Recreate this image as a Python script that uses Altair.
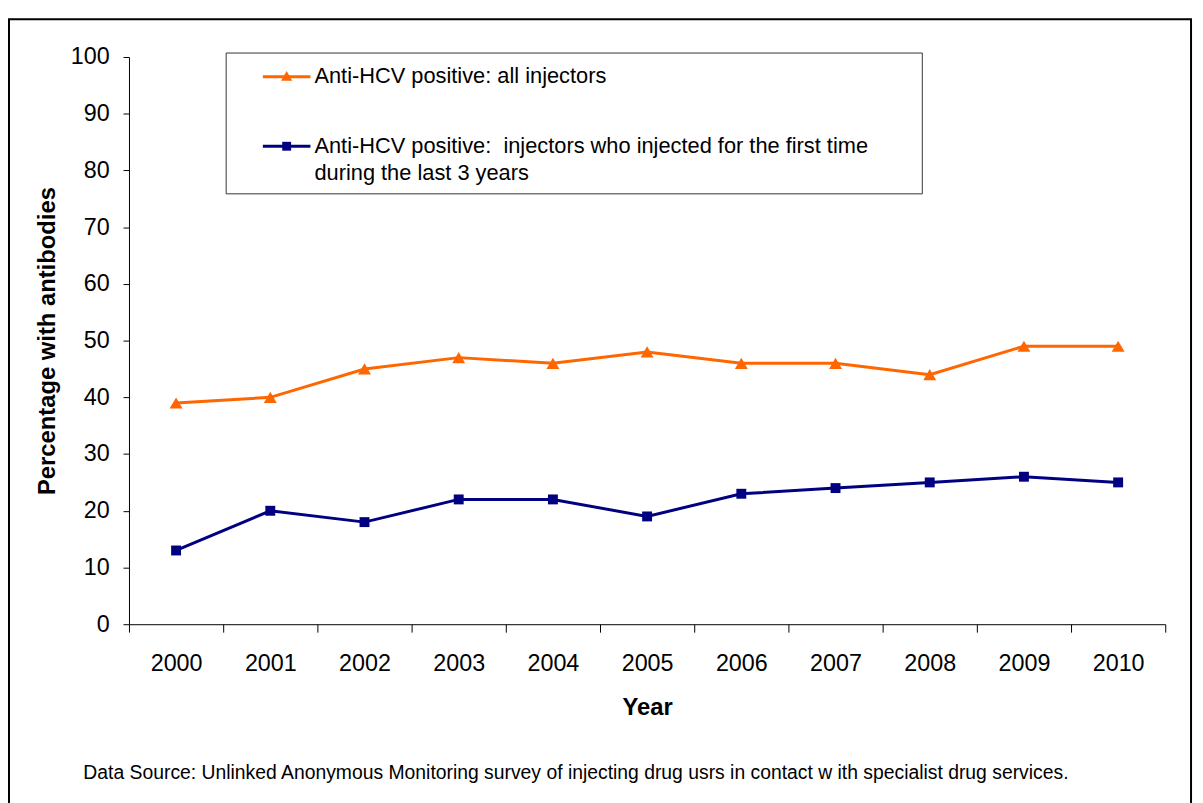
import altair as alt
import pandas as pd

years = ["2000", "2001", "2002", "2003", "2004", "2005", "2006", "2007", "2008", "2009", "2010"]
all_injectors = [39, 40, 45, 47, 46, 48, 46, 46, 44, 49, 49]
recent_injectors = [13, 20, 18, 22, 22, 19, 23, 24, 25, 26, 25]

series_names = ["Anti-HCV positive: all injectors",
                "Anti-HCV positive:  injectors who injected for the first time during the last 3 years"]
colors = ["#FF6600", "#000080"]
legend_line1 = "Anti-HCV positive: all injectors"
legend_line2 = "Anti-HCV positive:\u00a0 injectors who injected for the first time"
legend_line3 = "during the last 3 years"
source_text = "Data Source: Unlinked Anonymous Monitoring survey of injecting drug usrs in contact w ith specialist drug services."

FONT = "Liberation Sans"

df = pd.DataFrame({
    "year": years * 2,
    "value": all_injectors + recent_injectors,
    "series": [series_names[0]] * len(years) + [series_names[1]] * len(years),
})

x_enc = alt.X("year:O", bandPosition=0.5,
              scale=alt.Scale(type="band", paddingInner=0, paddingOuter=0, domain=years),
              axis=alt.Axis(title="Year", labelAngle=0, tickBand="extent", tickSize=8,
                            labelPadding=20, titlePadding=21, labelFontSize=23.5,
                            titleFontSize=24, titleFontWeight="bold"))
y_enc = alt.Y("value:Q", scale=alt.Scale(domain=[0, 100], nice=False),
              axis=alt.Axis(title="Percentage with antibodies", values=list(range(0, 101, 10)),
                            grid=False, tickSize=6, labelPadding=14, titlePadding=11,
                            labelFontSize=23.5, titleFontSize=24, titleFontWeight="bold"))
color_enc = alt.Color("series:N", scale=alt.Scale(domain=series_names, range=colors), legend=None)
shape_enc = alt.Shape("series:N", scale=alt.Scale(domain=series_names, range=["triangle-up", "square"]), legend=None)
size_enc = alt.Size("series:N", scale=alt.Scale(domain=series_names, range=[170, 100]), legend=None)

base = alt.Chart(df)
lines = base.mark_line(strokeWidth=3).encode(x=x_enc, y=y_enc, color=color_enc)
points = base.mark_point(filled=True, opacity=1).encode(
    x=x_enc, y=y_enc, color=color_enc, shape=shape_enc, size=size_enc)

one = alt.Data(values=[{}])

border = alt.Chart(one).mark_rect(fill=None, stroke="black", strokeWidth=2).encode(
    x=alt.value(-121), x2=alt.value(1071), y=alt.value(-38), y2=alt.value(760))

legend_box = alt.Chart(one).mark_rect(fill="white", stroke="#333333", strokeWidth=1).encode(
    x=alt.value(98), x2=alt.value(800), y=alt.value(-4), y2=alt.value(138))

leg_rule1 = alt.Chart(one).mark_rule(color=colors[0], strokeWidth=3).encode(
    x=alt.value(135), x2=alt.value(183), y=alt.value(20))
leg_pt1 = alt.Chart(one).mark_point(filled=True, opacity=1, shape="triangle-up", size=130, color=colors[0]).encode(
    x=alt.value(159), y=alt.value(19))
leg_txt1 = alt.Chart(one).mark_text(align="left", baseline="middle", fontSize=22, font=FONT, color="black").encode(
    x=alt.value(187), y=alt.value(19), text=alt.value(legend_line1))

leg_rule2 = alt.Chart(one).mark_rule(color=colors[1], strokeWidth=3).encode(
    x=alt.value(135), x2=alt.value(183), y=alt.value(90))
leg_pt2 = alt.Chart(one).mark_point(filled=True, opacity=1, shape="square", size=80, color=colors[1]).encode(
    x=alt.value(159), y=alt.value(90))
leg_txt2 = alt.Chart(one).mark_text(align="left", baseline="middle", fontSize=22, font=FONT, color="black").encode(
    x=alt.value(187), y=alt.value(90), text=alt.value(legend_line2))
leg_txt3 = alt.Chart(one).mark_text(align="left", baseline="middle", fontSize=22, font=FONT, color="black").encode(
    x=alt.value(187), y=alt.value(117), text=alt.value(legend_line3))

src = alt.Chart(one).mark_text(align="left", baseline="middle", fontSize=19.5, font=FONT, color="black").encode(
    x=alt.value(-46), y=alt.value(722), text=alt.value(source_text))

chart = alt.layer(
    border, lines, points, legend_box,
    leg_rule1, leg_pt1, leg_txt1, leg_rule2, leg_pt2, leg_txt2, leg_txt3, src
).properties(
    width=1045, height=572,
    autosize=alt.AutoSizeParams(type="none"),
    padding={"left": 122, "top": 46, "right": 30, "bottom": 190},
    background="white",
).configure_view(stroke=None).configure_axis(
    domainColor="#000000", tickColor="#000000", labelColor="black", titleColor="black",
    labelFont=FONT, titleFont=FONT, domainWidth=1, tickWidth=1
)

chart.save("out.html", embed_options={"renderer": "svg", "actions": False})
